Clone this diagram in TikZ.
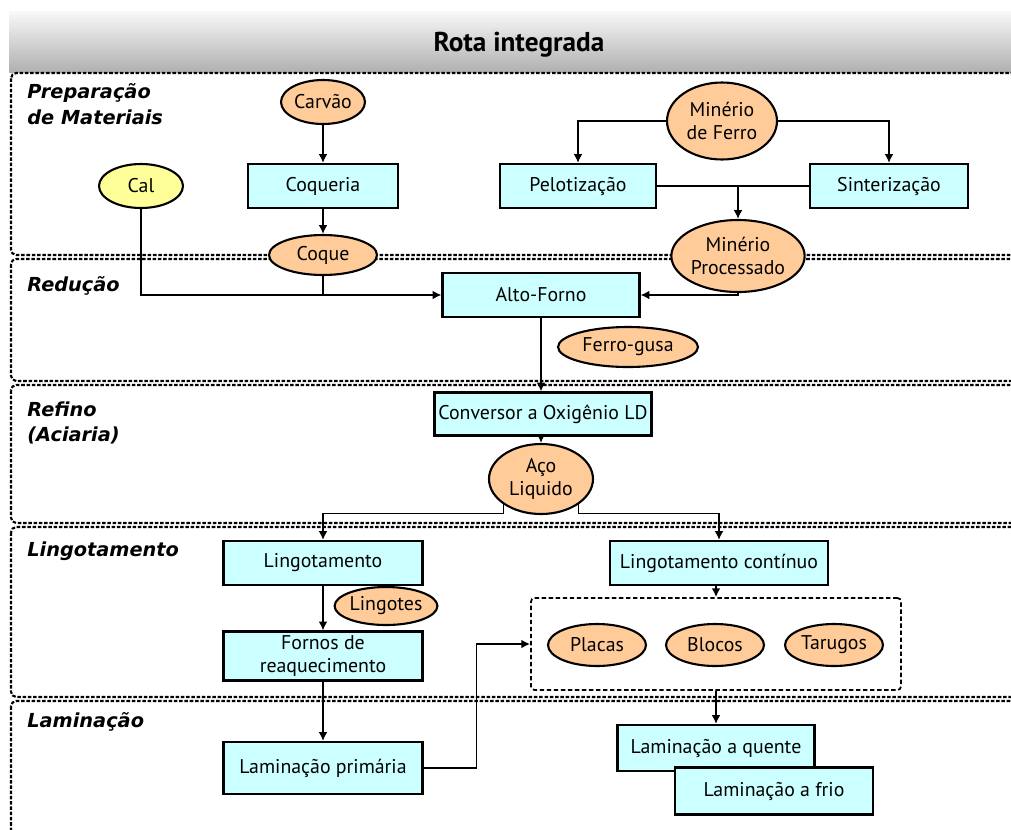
\documentclass[tikz,border=0pt]{standalone}
\usepackage{fontspec}
\setmainfont{PT Sans}
\newfontfamily\secfont{DejaVu Sans}
\usepackage{tikz}
\usetikzlibrary{arrows.meta,shapes.geometric}
\definecolor{procfill}{HTML}{CCFFFF}
\definecolor{matfill}{HTML}{FFCC99}
\definecolor{calfill}{HTML}{FFFF99}

\begin{document}
\begin{tikzpicture}[x=0.02cm,y=-0.02cm,
    procbox/.style={draw,line width=1.2pt,fill=procfill,minimum height=0.88cm,inner sep=1pt,align=center,font=\fontsize{11.3}{13}\selectfont},
    matnode/.style={ellipse,draw,line width=1.2pt,fill=matfill,inner sep=0pt,align=center,font=\fontsize{11.3}{13}\selectfont},
    secline/.style={line width=1.2pt,dash pattern=on 2pt off 1pt,rounded corners=3pt},
    seclabel/.style={anchor=north west,inner sep=0pt,align=left,font=\secfont\bfseries\itshape\fontsize{11}{14.7}\selectfont},
    flow/.style={line width=1pt,-{Latex[length=5pt,width=5pt]}}]
    \useasboundingbox (0,0) rectangle (1011,829);
    % title bar
    \shade[top color=gray!5, bottom color=gray!62] (9,11) rectangle (1011,72);
    \node[font=\bfseries\fontsize{15.5}{18}\selectfont] (titulo) at (519,45) {Rota integrada};
    % sections
    \foreach \ytop/\ybot in {73/255,259/381,385/523,527/697,701/860}
        \draw[secline] (11,\ytop) rectangle (1030,\ybot);
    \foreach \nm/\ypos/\txt in {prep/83/{Preparação\\de Materiais},red/276/Redução,ref/401/{Refino\\(Aciaria)},ling/541/Lingotamento,lam/712/Laminação}
        \node[seclabel] (sec\nm) at (27,\ypos) {\txt};
%    \draw[step=50,gray!30,very thin] (0,0) grid (1011,829);

    % preparacao
    \node[matnode,minimum width=1.68cm,minimum height=0.88cm] (carvao) at (323,102) {Carvão};
    \node[matnode,minimum width=2.2cm,minimum height=1.54cm] (minerio) at (722,121) {Minério\\de Ferro};
    \node[matnode,fill=calfill,minimum width=1.68cm,minimum height=0.88cm] (cal) at (141,186) {Cal};
    \node[procbox,minimum width=3cm] (coqueria) at (323,186) {Coqueria};
    \node[procbox,minimum width=3.12cm] (pelot) at (578,186) {Pelotização};
    \node[procbox,minimum width=3.16cm] (sinter) at (889,186) {Sinterização};
    \node[matnode,minimum width=2.16cm,minimum height=0.8cm] (coque) at (323,255) {Coque};
    \node[matnode,minimum width=2.6cm,minimum height=1.44cm] (minproc) at (738,256) {Minério\\Processado};
    % reducao / refino
    \node[procbox,minimum width=3.94cm] (altoforno) at (541,295) {Alto-Forno};
    \node[matnode,minimum width=2.8cm,minimum height=0.8cm] (gusa) at (628,347) {Ferro-gusa};
    \node[procbox,minimum width=4.34cm,minimum height=0.86cm] (conversor) at (543,414) {Conversor a Oxigênio LD};
    \node[matnode,minimum width=2.08cm,minimum height=1.4cm] (aco) at (541,479) {Aço\\Liquido};
    % lingotamento
    \node[procbox,minimum width=3.98cm] (lingot) at (323,563) {Lingotamento};
    \node[procbox,minimum width=4.36cm] (lingcont) at (719,563) {Lingotamento contínuo};
    \node[matnode,minimum width=1.92cm,minimum height=0.76cm] (lingotes) at (386,606) {Lingotes};
    \node[procbox,minimum width=3.98cm,minimum height=0.98cm] (fornos) at (323,656) {Fornos de\\reaquecimento};
    \node[draw,line width=1pt,dash pattern=on 2.5pt off 1.5pt,rounded corners=2pt,minimum width=7.4cm,minimum height=1.84cm] (produtos) at (716,644) {};
    \foreach \nm/\xpos/\txt in {placas/597/Placas,blocos/715/Blocos,tarugos/834/Tarugos}
        \node[matnode,minimum width=1.96cm,minimum height=0.84cm] (\nm) at (\xpos,645) {\txt};
    % laminacao
    \node[procbox,minimum width=3.98cm,minimum height=1.04cm] (lamprim) at (323,768) {Laminação primária};
    \node[procbox,minimum width=3.94cm,minimum height=0.92cm] (lamquente) at (716,748) {Laminação a quente};
    \node[procbox,minimum width=3.96cm,minimum height=0.94cm] (lamfrio) at (774,791) {Laminação a frio};

    % connectors
    \draw[flow] (carvao) -- (coqueria);
    \draw[flow] (coqueria) -- (coque);
    \draw[flow] (minerio.west) -| (pelot);
    \draw[flow] (minerio.east) -| (sinter);
    \draw[line width=1pt] (pelot.east) -- (sinter.west);
    \draw[flow] (minproc.north |- pelot.east) -- (minproc);
    \draw[flow] (cal) |- (altoforno);
    \draw[line width=1pt] (coque.south) -- (coque.south |- altoforno.west);
    \draw[flow] (minproc) |- (altoforno);
    \draw[flow] (altoforno.south) -- (altoforno.south |- conversor.north);
    \draw[flow] (conversor.south -| aco) -- (aco);
    \draw[flow] (aco.south west) -- ++(0,9) -| (lingot);
    \draw[flow] (aco.south east) -- ++(0,9) -| (lingcont);
    \draw[flow] (lingot) -- (fornos);
    \draw[flow] (fornos) -- (lamprim);
    \draw[flow] (lingcont.south -| produtos) -- (produtos.north);
    \draw[flow] (lamprim.east) -- ++(53,0) |- (produtos.west);
    \draw[flow] (produtos.south) -- (lamquente);
\end{tikzpicture}
\end{document}
